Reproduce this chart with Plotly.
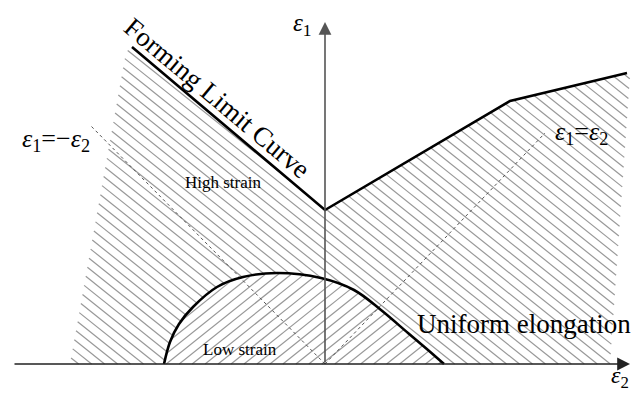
import math
import plotly.graph_objects as go

# Forming limit diagram (minor strain e2 horizontal, major strain e1 vertical),
# values in arbitrary diagram units with the origin at the axes crossing.

# Forming limit curve
flc_e2 = [-193, 0, 185, 302]
flc_e1 = [317, 154, 263, 291]

# Uniform elongation boundary (low strain dome)
dome_e2 = [-161, -155, -146, -132, -108, -82, -48, -4, 29, 56, 83, 103, 119]
dome_e1 = [0, 22, 40, 57, 77, 87, 91, 86, 74, 54, 31, 14, 0]

# Outline of the hatched (high strain) zone below the FLC
zone_left = [(-255, 0), (-199, 312)]
zone_right = [(305, 289), (285, 0)]

# Reference strain paths e1 = -e2 and e1 = e2
path_neg = ([0, -234], [0, 238])
path_pos = ([0, 220], [0, 231])

SERIF = "Liberation Serif"


def hatch(rings, slope, spacing, phase=0.0):
    """Clip a family of parallel lines to the polygon rings (even-odd rule)."""
    ang = math.atan(slope)
    dx, dy = math.cos(ang), math.sin(ang)
    nx, ny = -dy, dx
    pts = [p for r in rings for p in r]
    cs = [nx * x + ny * y for x, y in pts]
    lo, hi = min(cs), max(cs)
    xs, ys = [], []
    c = phase + spacing * math.floor((lo - phase) / spacing)
    while c <= hi:
        hits = []
        for ring in rings:
            n = len(ring)
            for i in range(n):
                x1, y1 = ring[i]
                x2, y2 = ring[(i + 1) % n]
                s1 = nx * x1 + ny * y1 - c
                s2 = nx * x2 + ny * y2 - c
                if (s1 > 0) != (s2 > 0):
                    t = s1 / (s1 - s2)
                    px, py = x1 + t * (x2 - x1), y1 + t * (y2 - y1)
                    hits.append((dx * px + dy * py, px, py))
        hits.sort()
        for k in range(0, len(hits) - 1, 2):
            xs += [hits[k][1], hits[k + 1][1], None]
            ys += [hits[k][2], hits[k + 1][2], None]
        c += spacing
    return xs, ys


dome = list(zip(dome_e2, dome_e1))
flc = list(zip(flc_e2, flc_e1))
high_zone = (zone_left + flc + zone_right
             + [(dome_e2[-1], 0)] + dome[::-1][1:-1] + [(dome_e2[0], 0)])

hx, hy = hatch([high_zone], -0.8, 8.1, 0.0)
lx, ly = hatch([dome], 0.8, 8.1, 2.0)

fig = go.Figure()
fig.add_trace(go.Scatter(x=hx, y=hy, mode="lines", hoverinfo="skip",
                         line=dict(color="#999999", width=1.2)))
fig.add_trace(go.Scatter(x=lx, y=ly, mode="lines", hoverinfo="skip",
                         line=dict(color="#999999", width=1.2)))
for px, py in (path_neg, path_pos):
    fig.add_trace(go.Scatter(x=px, y=py, mode="lines", hoverinfo="skip",
                             line=dict(color="#555555", width=1, dash="dot")))
fig.add_trace(go.Scatter(x=flc_e2, y=flc_e1, mode="lines", hoverinfo="skip",
                         line=dict(color="black", width=2.6)))
fig.add_trace(go.Scatter(x=dome_e2, y=dome_e1, mode="lines", hoverinfo="skip",
                         line=dict(color="black", width=2.6, shape="spline")))

# Axes with arrow heads
fig.add_annotation(x=305, y=0, ax=-312, ay=0, xref="x", yref="y",
                   axref="x", ayref="y", showarrow=True, arrowhead=2,
                   arrowsize=1.6, arrowwidth=1.6, arrowcolor="#222222", text="")
fig.add_annotation(x=0, y=342, ax=0, ay=0, xref="x", yref="y",
                   axref="x", ayref="y", showarrow=True, arrowhead=2,
                   arrowsize=1.6, arrowwidth=1.6, arrowcolor="#555555", text="")

labels = [
    (-108, 266, "Forming Limit Curve", 27, 40),
    (-102, 182, "High strain", 17, 0),
    (-85, 15, "Low strain", 17, 0),
    (199, 40, "Uniform elongation", 27, 0),
    (-269, 224, "<i>ε</i><sub>1</sub>=−<i>ε</i><sub>2</sub>", 26, 0),
    (256, 231, "<i>ε</i><sub>1</sub>=<i>ε</i><sub>2</sub>", 26, 0),
    (-23, 340, "<i>ε</i><sub>1</sub>", 25, 0),
    (295, -13, "<i>ε</i><sub>2</sub>", 24, 0),
]
for x, y, txt, size, ang in labels:
    fig.add_annotation(x=x, y=y, text=txt, showarrow=False, textangle=ang,
                       xanchor="center", yanchor="middle",
                       font=dict(family=SERIF, size=size, color="black"))

fig.update_layout(
    width=642, height=394, margin=dict(l=0, r=0, t=0, b=0),
    paper_bgcolor="white", plot_bgcolor="white", showlegend=False,
    xaxis=dict(range=[-325, 317], visible=False, fixedrange=True),
    yaxis=dict(range=[-30, 364], visible=False, fixedrange=True),
)
fig.write_html("out.html")
